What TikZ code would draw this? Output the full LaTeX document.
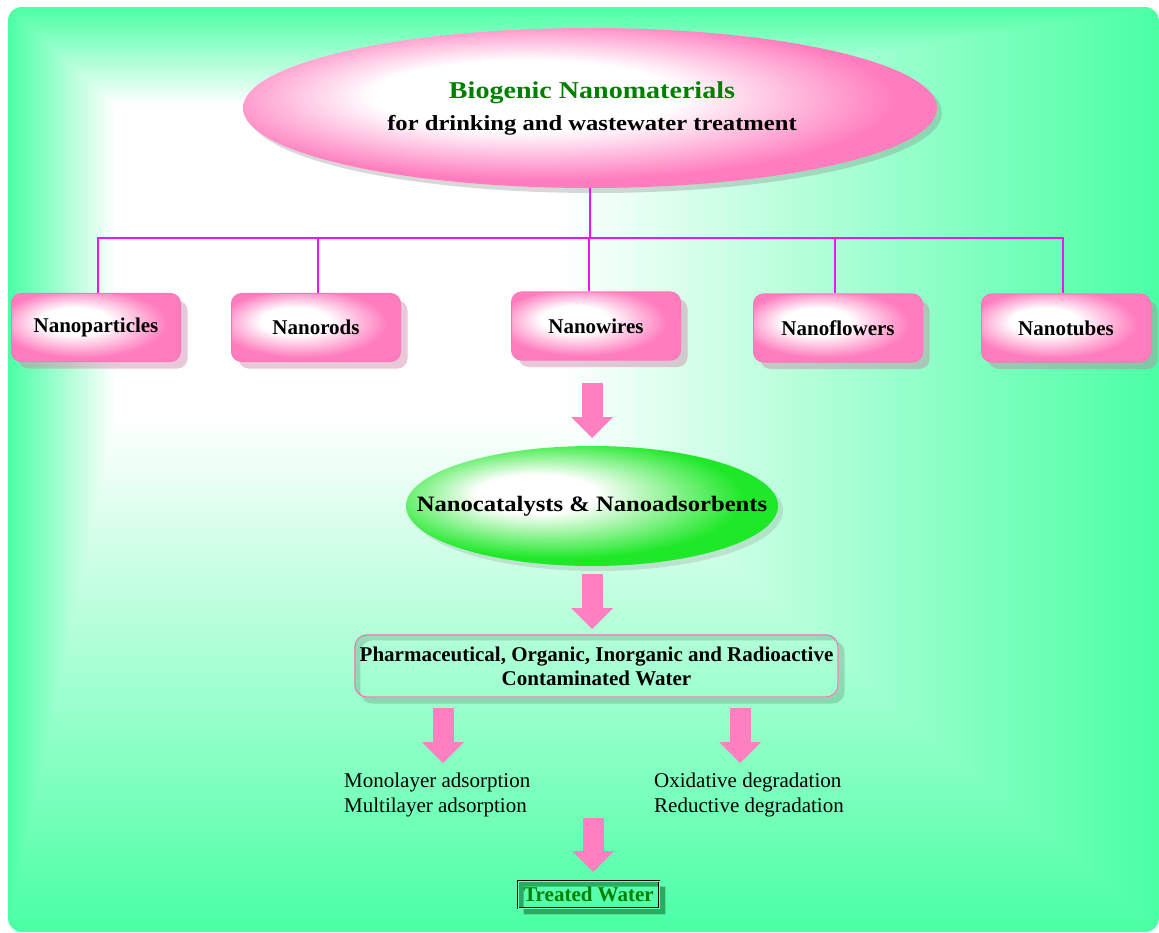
\documentclass[tikz,border=0pt]{standalone}
\usepackage{fontspec}
\setmainfont{Liberation Serif}
\usepackage{graphicx}
\usetikzlibrary{shapes.geometric,arrows.meta,calc,shadows}
\definecolor{bggreen}{RGB}{75,255,165}
\definecolor{pinkE}{RGB}{255,125,190}
\definecolor{pinkB}{RGB}{250,120,185}
\definecolor{greenE}{RGB}{30,232,40}
\definecolor{conncol}{RGB}{240,20,240}
\definecolor{arrowpink}{RGB}{255,128,192}
\definecolor{titlegreen}{RGB}{0,128,0}
\definecolor{shpink}{RGB}{200,120,160}
\definecolor{twshadow}{RGB}{45,170,95}
\pgfdeclareradialshading{pinkglow}{\pgfpoint{-8bp}{6bp}}{color(0bp)=(white); color(10bp)=(white); color(25bp)=(pinkE); color(50bp)=(pinkE)}
\pgfdeclareradialshading{pinkglowE}{\pgfpoint{-6bp}{5bp}}{color(0bp)=(white); color(11bp)=(white); color(25bp)=(pinkE); color(50bp)=(pinkE)}
\pgfdeclareradialshading{greenglow}{\pgfpoint{-9bp}{6bp}}{color(0bp)=(white); color(8bp)=(white); color(25bp)=(greenE); color(50bp)=(greenE)}
\pgfdeclarelayer{bg}
\pgfsetlayers{bg,main}
\begin{document}
\begin{tikzpicture}[x=1pt,y=-1pt,
  pinkbox/.style={draw=pinkB, line width=1pt, rounded corners=10pt, shade, shading=pinkglow,
    minimum width=169pt, minimum height=68pt, font=\fontsize{21}{25}\selectfont\bfseries,
    drop shadow={shadow xshift=7pt, shadow yshift=-7pt, fill=shpink, opacity=0.4}},
  conn/.style={draw=conncol, line width=1.6pt},
  fat/.style={draw=arrowpink, line width=21pt, -{Triangle[length=21pt,width=42pt,line width=0pt]}},
  plain/.style={anchor=west, align=left, inner sep=0pt, font=\fontsize{21}{25}\selectfont}
]
\useasboundingbox (0,0) rectangle (1159,933);

% ---------- main nodes ----------
\node[ellipse, minimum width=694pt, minimum height=160pt, shade, shading=pinkglowE,
  drop shadow={shadow xshift=5pt, shadow yshift=-5pt, fill=gray, opacity=0.3}] (topE) at (590,108) {};
\node[align=center, inner sep=0pt, font=\fontsize{20.5}{32}\selectfont\bfseries] (topT) at (592,108.5)
  {\scalebox{1.22}[1.05]{\fontsize{23}{23}\selectfont\color{titlegreen}Biogenic Nanomaterials}\\
   \scalebox{1.2}[1.05]{for drinking and wastewater treatment}};

\node[pinkbox] (b1) at (96,327.5) {Nanoparticles};
\node[pinkbox] (b2) at (316,327.5) {Nanorods};
\node[pinkbox] (b3) at (596,326) {Nanowires};
\node[pinkbox] (b4) at (838,328) {Nanoflowers};
\node[pinkbox] (b5) at (1066,328) {Nanotubes};

\node[ellipse, minimum width=372pt, minimum height=120pt, shade, shading=greenglow,
  drop shadow={shadow xshift=5pt, shadow yshift=-5pt, fill=gray, opacity=0.22}] (cat) at (592,506) {};
\node[inner sep=0pt, font=\fontsize{22}{22}\selectfont\bfseries] (catT) at (592,506)
  {\scalebox{1.12}[1]{Nanocatalysts \& Nanoadsorbents}};

\node[draw=pinkB, line width=1.2pt, rounded corners=12pt, minimum width=483pt, minimum height=62pt,
  inner xsep=2pt, align=center, font=\fontsize{21}{24}\selectfont\bfseries] (cont) at (596.5,666)
  {Pharmaceutical, Organic, Inorganic and Radioactive\\Contaminated Water};

\node[plain] (ads) at (344,794.6) {Monolayer adsorption\\Multilayer adsorption};
\node[plain] (deg) at (654,794.6) {Oxidative degradation\\Reductive degradation};

\node[draw=black, line width=0.9pt, double=bggreen!80!white, double distance=0.8pt,
  minimum width=141pt, minimum height=27pt, inner sep=1pt,
  font=\fontsize{21}{21}\selectfont\bfseries, text=titlegreen] (tw) at (588.5,894.5) {Treated Water};

% ---------- tree connectors ----------
\coordinate (bus) at (590,238);
\coordinate (d1) at ($(b1.north)+(2,0)$);
\coordinate (d2) at ($(b2.north)+(2,0)$);
\coordinate (d3) at ($(b3.north)+(-7,0)$);
\coordinate (d4) at ($(b4.north)+(-3,0)$);
\coordinate (d5) at ($(b5.north)+(-3,0)$);
\draw[conn] (topE.south) -- (bus);
\draw[conn] (d1) -- (d1 |- bus) -- (d5 |- bus) -- (d5);
\draw[conn] (d2) -- (d2 |- bus);
\draw[conn] (d3) -- (d3 |- bus);
\draw[conn] (d4) -- (d4 |- bus);

% ---------- block arrows ----------
\coordinate (a1s) at (592,383); \coordinate (a1e) at (592,438);
\coordinate (a2s) at (592,574); \coordinate (a2e) at (592,629);
\coordinate (a3s) at (443,708); \coordinate (a3e) at (443,763);
\coordinate (a4s) at (740,708); \coordinate (a4e) at (740,763);
\coordinate (a5s) at (593,818); \coordinate (a5e) at (593,872);
\draw[fat] (a1s) -- (a1e);
\draw[fat] (a2s) -- (a2e);
\draw[fat] (a3s) -- (a3e);
\draw[fat] (a4s) -- (a4e);
\draw[fat] (a5s) -- (a5e);

% ---------- background ----------
\begin{pgfonlayer}{bg}
  \fill[white] (0,0) rectangle (1159,933);
  \begin{scope}
    \clip[rounded corners=14pt] (8,7) rectangle (1159,932);
    \foreach \i in {0,...,80}{
      \pgfmathsetmacro\t{\i/80}
      \pgfmathsetmacro\p{100*\t}
      \fill[white!\p!bggreen] (8+107*\t, 7+98*\t) rectangle (1159-599*\t, 932-512*\t);
    }
  \end{scope}
  \fill[black, opacity=0.14, even odd rule, rounded corners=12pt]
    ([shift={(6,6)}]cont.north west) rectangle ([shift={(6,6)}]cont.south east)
    (cont.north west) rectangle (cont.south east);
  \fill[twshadow, even odd rule]
    ([shift={(6,6)}]tw.north west) rectangle ([shift={(6,6)}]tw.south east)
    (tw.north west) rectangle (tw.south east);
\end{pgfonlayer}
\end{tikzpicture}
\end{document}
